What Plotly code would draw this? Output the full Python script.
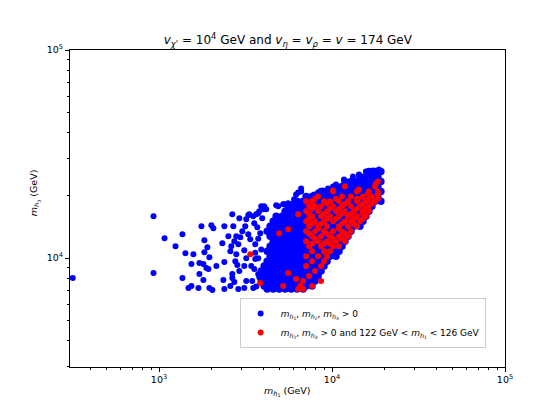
import plotly.graph_objects as go

# dense core of the blue points, read row by row (y value, x values), GeV
dense_y = [26080, 24680, 23360, 22110, 20920, 19800, 18740, 17740, 16790, 15890,
           15030, 14230, 13460, 12740, 12060, 11410, 10800, 10220, 9675, 9156,
           8667, 8202, 7762, 7345, 7108]
dense_x = [
    [16340, 17694, 19160],
    [14502, 15704, 17006, 18416],
    [11884, 12866, 13937, 15087, 16340, 17694, 19160],
    [10545, 11419, 12366, 13391, 14502, 15704, 17006, 18416],
    [8641, 9358, 10134, 10973, 11884, 12866, 13937, 15087, 16340, 17694, 19160],
    [7081, 7668, 8304, 8992, 9738, 10545, 11419, 12366, 13391, 14502, 15704, 17006, 18416],
    [6284, 6806, 7371, 7980, 8641, 9358, 10134, 10973, 11884, 12866, 13937, 15087, 16340,
     17694, 19160],
    [5576, 6038, 6539, 7081, 7668, 8304, 8992, 9738, 10545, 11419, 12366, 13391, 14502,
     15704, 17006],
    [5360, 5802, 6284, 6806, 7371, 7980, 8641, 9358, 10134, 10973, 11884, 12866, 13937,
     15087, 16340],
    [4755, 5149, 5576, 6038, 6539, 7081, 7668, 8304, 8992, 9738, 10545, 11419, 12366,
     13391, 14502, 15704],
    [4570, 4949, 5360, 5802, 6284, 6806, 7371, 7980, 8641, 9358, 10134, 10973, 11884,
     12866, 13937, 15087],
    [4390, 4755, 5149, 5576, 6038, 6539, 7081, 7668, 8304, 8992, 9738, 10545, 11419,
     12366, 13391, 14502],
    [4219, 4570, 4949, 5360, 5802, 6284, 6806, 7371, 7980, 8641, 9358, 10134, 10973,
     11884, 12866],
    [4390, 4755, 5149, 5576, 6038, 6539, 7081, 7668, 8304, 8992, 9738, 10545,
     11419, 12366],
    [4570, 4949, 5360, 5802, 6284, 6806, 7371, 7980, 8641, 9358, 10134, 10973, 11884],
    [4390, 4755, 5149, 5576, 6038, 6539, 7081, 7668, 8304, 8992, 9738, 10545, 11419],
    [4219, 4570, 4949, 5360, 5802, 6284, 6806, 7371, 7980, 8641, 9358, 10134, 10973],
    [4390, 4755, 5149, 5576, 6038, 6539, 7081, 7668, 8304, 8992, 9738, 10545],
    [4219, 4570, 4949, 5360, 5802, 6284, 6806, 7371, 7980, 8641, 9358],
    [4055, 4390, 4755, 5149, 5576, 6038, 6539, 7081, 7668, 8304, 8992],
    [3897, 4219, 4570, 4949, 5360, 5802, 6284, 6806, 7371, 7980, 8641],
    [4055, 4390, 4755, 5149, 5576, 6038, 6539, 7081, 7668, 8304],
    [3897, 4219, 4570, 4949, 5360, 5802, 6284, 6806, 7371, 7980],
    [4055, 4390, 4755, 5149, 5576, 6038, 6539, 7081, 7668],
    [4219, 4570, 4949, 5360, 5802, 6284, 6806],
]

# scattered blue points outside the core
sparse_x = [317, 929, 929, 1076, 1366, 1245, 1421, 1580, 1366, 1479, 1539, 1689, 1539,
            1758, 2007, 2061, 1829, 1903, 1829, 1954, 1712, 1805, 1878, 1929, 1712, 1805,
            1954, 2034, 2145, 2385, 2323, 2385, 2354, 2385, 2652, 2687, 2516, 2617, 2584,
            2652, 2584, 2911, 2797, 2723, 2872, 2797, 2760, 2835, 2911, 2652, 2872, 2723,
            3029, 2949, 3193, 3323, 3151, 3110, 3193, 3110, 3193, 3110, 3280, 3368, 3413,
            3551, 3458, 3504, 3648, 3551, 3696, 3599, 3745, 3897, 3949, 3846,
            3280, 3795, 4164, 4755, 5290, 5576, 5958, 6201, 6368, 7081, 7875, 8304, 8874,
            9483, 10134, 10545, 11727, 13214, 14310, 15704, 17230, 18660, 6628, 7568,
            6039, 5576, 5220, 4884, 4055, 4002, 3745, 3504, 16120, 12866, 6628,
            3745, 3599, 3897, 3745, 3650, 3800, 3599]
sparse_y = [8023, 15890, 8477, 12464, 13023, 11414, 10566, 10450, 8023, 7186, 7345, 7186,
            9361, 14230, 14380, 13914, 12193, 11288, 10683, 10111, 9464, 9361, 8955, 8858,
            8385, 7847, 7186, 7028, 9156, 14230, 11797, 9570, 7847, 7107, 16233, 14230,
            12740, 11410, 10800, 8385, 7345, 15540, 12740, 12060, 11667, 10450, 9675, 9259,
            8667, 8023, 7107, 7677, 13460, 12600, 15370, 16233, 14230, 10920, 10000, 9156,
            7762, 7186, 13023, 12327, 9156, 8858, 7762, 7186, 16233, 14706, 14070, 11667,
            10000, 17740, 15540, 13170,
            16060, 16790, 17160, 17930, 18130, 17350, 18330, 20240, 20690, 19800, 20240,
            20690, 21150, 21630, 22110, 22600, 23880, 24680, 25230, 26080, 26370, 26660,
            20920, 19800, 19160, 18330, 18130, 17740, 17740, 17160, 16420, 15890, 25510,
            23360, 21630,
            12400, 9900, 11000, 8400, 7300, 8100, 10600]

# red points (122 GeV < m_h1 < 126 GeV)
red_x = [18416, 11884, 17694, 10134, 13937, 16340, 18416,
         8304, 11419, 12866, 15087, 17006,
         7081, 7668, 8992, 9738, 10973, 12366, 13937, 15704, 17694,
         7371, 7980, 8641, 10134, 11419, 12866, 14502, 16340,
         7081, 8304, 9358, 10545, 11884, 13391, 15087, 16340,
         7668, 8641, 9738, 10973, 12366, 13937, 15704,
         7081, 7980, 8992, 10134, 11884, 12866, 14502,
         7371, 8304, 9358, 10973, 12366, 13937,
         7081, 7980, 8992, 10134, 11419, 12866,
         7668, 8641, 9738, 10973, 12366,
         7081, 8304, 9358, 10545, 11884,
         7371, 8641, 10134, 10973,
         7668, 8992, 9738,
         7081, 8304, 9358,
         7668, 8992,
         7081, 8641,
         7980, 7371, 6806, 8641, 6539, 7668, 6806,
         3368, 3846, 4949, 5576, 6368, 5576, 5220, 6368, 6201,
         10134, 14310, 16120, 17930, 18416, 14120,
         7980, 10545, 13937, 16340, 18416,
         7668, 9358, 11884, 15087, 17006,
         7668, 9738, 10973, 13937, 15704,
         7371, 8992, 11419, 12866, 15087,
         7371, 9358, 10545, 13391, 15087,
         7668, 8641, 11419, 13391,
         8304, 10973,
         7371, 9358, 11884,
         7980, 10134, 11419,
         7668, 8992, 9738]
red_y = [23360, 22110, 22110, 20920, 20920, 20920, 20920,
         19800, 19800, 19800, 19800, 19800,
         18740, 18740, 18740, 18740, 18740, 18740, 18740, 18740, 18740,
         17740, 17740, 17740, 17740, 17740, 17740, 17740, 17740,
         16790, 16790, 16790, 16790, 16790, 16790, 16790, 16790,
         15890, 15890, 15890, 15890, 15890, 15890, 15890,
         15030, 15030, 15030, 15030, 15030, 15030, 15030,
         14230, 14230, 14230, 14230, 14230, 14230,
         13460, 13460, 13460, 13460, 13460, 13460,
         12740, 12740, 12740, 12740, 12740,
         12060, 12060, 12060, 12060, 12060,
         11410, 11410, 11410, 11410,
         10800, 10800, 10800,
         10220, 10220, 10220,
         9675, 9675,
         9156, 9156,
         8667, 8202, 7762, 7762, 7345, 7345, 7108,
         10450, 7590, 13170, 13760, 16233, 8477, 7345, 7108, 7935,
         21150, 21390, 20460, 22850, 20240, 19160,
         19270, 19270, 19270, 19270, 19270,
         18230, 18230, 18230, 18230, 18230,
         17250, 17250, 17250, 17250, 17250,
         16330, 16330, 16330, 16330, 16330,
         15450, 15450, 15450, 15450, 15450,
         14620, 14620, 14620, 14620,
         13840, 13840,
         13100, 13100, 13100,
         12400, 12400, 12400,
         11730, 11730, 11730]

core_x = [x for row in dense_x for x in row]
core_y = [y for y, row in zip(dense_y, dense_x) for _ in row]

m1 = '<i>m</i><sub><i>h</i><sub>1</sub></sub>'
m2 = '<i>m</i><sub><i>h</i><sub>2</sub></sub>'
m3 = '<i>m</i><sub><i>h</i><sub>3</sub></sub>'

fig = go.Figure()
# core drawn a little larger so the overlapping dots merge into one solid patch
fig.add_trace(go.Scatter(x=core_x, y=core_y, mode='markers', showlegend=False,
                         marker=dict(color='blue', size=7.5, line=dict(width=0))))
fig.add_trace(go.Scatter(x=sparse_x, y=sparse_y, mode='markers',
                         marker=dict(color='blue', size=6, line=dict(width=0)),
                         name=f'{m1}, {m2}, {m3} > 0'))
fig.add_trace(go.Scatter(x=red_x, y=red_y, mode='markers',
                         marker=dict(color='red', size=6, line=dict(width=0)),
                         name=f'{m2}, {m3} > 0 and 122 GeV < {m1} < 126 GeV'))

minor_x = [m * 10 ** e for e in (2, 3, 4) for m in range(2, 10)]
minor_y = [m * 10 ** e for e in (3, 4) for m in range(2, 10)]

# the page puts the figure 8 px in from the top-left corner
fig.update_layout(
    width=552, height=412,
    margin=dict(l=62, r=55, t=42, b=53),
    plot_bgcolor='white', paper_bgcolor='white',
    font=dict(family='DejaVu Sans', size=10, color='black'),
    title=dict(text='<i>v</i><sub><i>χ\'</i></sub> = 10<sup>4</sup> GeV and '
                    '<i>v</i><sub><i>η</i></sub> = <i>v</i><sub><i>ρ</i></sub> = '
                    '<i>v</i> = 174 GeV',
               x=0.507, xanchor='center', y=0.922, yanchor='middle',
               font=dict(size=12)),
    showlegend=True,
    legend=dict(x=0.39, y=0.218, xanchor='left', yanchor='top',
                bgcolor='rgba(255,255,255,0.8)', bordercolor='#cccccc', borderwidth=1,
                font=dict(size=9), itemwidth=30, tracegroupgap=0),
    annotations=[
        dict(text=f'{m1} (GeV)', xref='paper', yref='paper', x=0.5, y=-0.078,
             xanchor='center', yanchor='middle', showarrow=False, font=dict(size=9.5)),
        dict(text=f'{m3} (GeV)', xref='paper', yref='paper', x=-0.08, y=0.549,
             xanchor='center', yanchor='middle', textangle=-90, showarrow=False,
             font=dict(size=9.5)),
    ],
)
fig.update_xaxes(type='log', range=[2.4853, 5], showgrid=False, zeroline=False,
                 automargin=False,
                 showline=True, linecolor='black', linewidth=1, mirror=True,
                 ticks='outside', ticklen=4, tickcolor='black',
                 tickvals=[1e3, 1e4, 1e5],
                 ticktext=['10<sup>3</sup>', '10<sup>4</sup>', '10<sup>5</sup>'],
                 tickfont=dict(size=9.5),
                 minor=dict(ticks='outside', ticklen=2, tickcolor='black',
                            tickvals=minor_x, showgrid=False))
fig.update_yaxes(type='log', range=[3.477, 5], showgrid=False, zeroline=False,
                 automargin=False,
                 showline=True, linecolor='black', linewidth=1, mirror=True,
                 ticks='outside', ticklen=4, tickcolor='black',
                 tickvals=[1e4, 1e5],
                 ticktext=['10<sup>4</sup>', '10<sup>5</sup>'],
                 tickfont=dict(size=9.5),
                 minor=dict(ticks='outside', ticklen=2, tickcolor='black',
                            tickvals=minor_y, showgrid=False))

fig.write_html('out.html')
